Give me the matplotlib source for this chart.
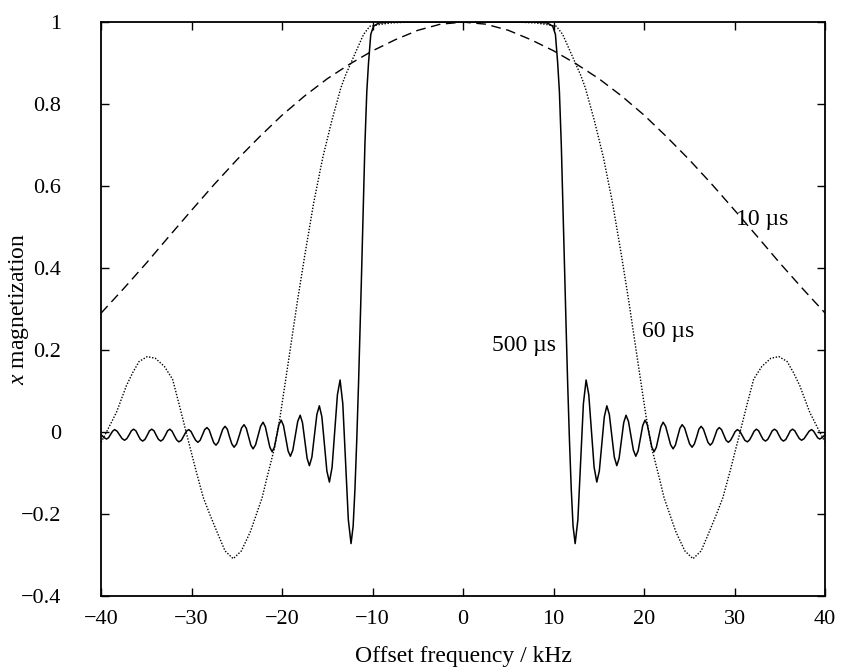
import numpy as np
import matplotlib
matplotlib.use("Agg")
import matplotlib.pyplot as plt

plt.rcParams['font.family'] = ['Liberation Serif', 'DejaVu Serif']
plt.rcParams['mathtext.fontset'] = 'custom'
plt.rcParams['mathtext.rm'] = 'Liberation Serif'
plt.rcParams['mathtext.it'] = 'Liberation Serif:italic'

# right half of each profile (kHz, x magnetization); curves are symmetric about 0
f10 = [0, 2.5, 5, 7.5, 10, 12.5, 15, 17.5, 20, 22.5, 25, 27.5, 30, 32.5, 35, 37.5, 40]
m10 = [1.0, 0.995, 0.98, 0.957, 0.93, 0.898, 0.862, 0.82, 0.773, 0.72, 0.664,
       0.604, 0.541, 0.477, 0.412, 0.35, 0.29]

f60 = [0, 6, 8, 9, 10.3, 11, 12, 13, 13.5,
       14.5, 15.5, 16.5, 17.5, 18.3,
       19.26, 20.2, 20.85, 21.7, 22.2,
       23.5, 24.5, 25.4, 26.3, 27.2,
       28.0, 28.7, 29.5, 30.6, 31.4,
       32.1, 33.0, 34.0, 34.9, 35.8,
       36.5, 37.2, 38.3, 39.4, 40]
m60 = [1.0, 1.0, 0.998, 0.995, 0.99, 0.97, 0.92, 0.87, 0.84,
       0.76, 0.67, 0.56, 0.43, 0.32,
       0.178, 0.04, -0.04, -0.114, -0.16,
       -0.243, -0.29, -0.309, -0.29, -0.243,
       -0.2, -0.16, -0.095, 0.0, 0.07,
       0.129, 0.16, 0.18, 0.184, 0.172,
       0.145, 0.113, 0.048, 0.0, -0.025]

f500 = [0, 4, 8, 9.3, 9.9, 10.2, 10.45, 10.64, 10.85, 11.05, 11.25, 11.4, 11.55, 11.75, 11.95, 12.15, 12.38,
        12.68, 12.985, 13.29, 13.59,
        13.885, 14.18, 14.475, 14.77,
        15.05, 15.325, 15.60, 15.88,
        16.155, 16.43, 16.705, 16.98,
        17.235, 17.49, 17.745, 18.0,
        18.27, 18.54, 18.81, 19.08,
        19.335, 19.59, 19.845, 20.1,
        20.35, 20.6, 20.85, 21.1,
        21.35, 21.6, 21.85, 22.1,
        22.375, 22.65, 22.925, 23.2,
        23.45, 23.7, 23.95, 24.2,
        24.475, 24.75, 25.025, 25.3,
        25.55, 25.8, 26.05, 26.3,
        26.55, 26.8, 27.05, 27.3,
        27.55, 27.8, 28.05, 28.3,
        28.55, 28.8, 29.05, 29.3,
        29.55, 29.8, 30.05, 30.3,
        30.575, 30.85, 31.125, 31.4,
        31.65, 31.9, 32.15, 32.4,
        32.65, 32.9, 33.15, 33.4,
        33.65, 33.9, 34.15, 34.4,
        34.65, 34.9, 35.15, 35.4,
        35.65, 35.9, 36.15, 36.4,
        36.65, 36.9, 37.15, 37.4,
        37.675, 37.95, 38.225, 38.5,
        38.725, 38.95, 39.175, 39.4,
        39.7, 40]
m500 = [1.0, 1.0, 1.0, 0.998, 0.99, 0.97, 0.9, 0.83, 0.7, 0.53, 0.36, 0.24, 0.12, -0.02, -0.14, -0.23, -0.272,
        -0.214, -0.073, 0.069, 0.127,
        0.091, 0.003, -0.086, -0.122,
        -0.095, -0.029, 0.037, 0.064,
        0.043, -0.009, -0.061, -0.082,
        -0.064, -0.021, 0.023, 0.041,
        0.026, -0.009, -0.044, -0.059,
        -0.046, -0.015, 0.016, 0.029,
        0.018, -0.010, -0.037, -0.048,
        -0.037, -0.012, 0.013, 0.024,
        0.014, -0.009, -0.031, -0.041,
        -0.032, -0.012, 0.009, 0.018,
        0.010, -0.010, -0.029, -0.037,
        -0.029, -0.012, 0.007, 0.014,
        0.007, -0.009, -0.025, -0.032,
        -0.026, -0.011, 0.005, 0.011,
        0.006, -0.007, -0.020, -0.025,
        -0.020, -0.010, 0.001, 0.006,
        0.002, -0.009, -0.020, -0.024,
        -0.019, -0.009, 0.002, 0.007,
        0.003, -0.008, -0.018, -0.022,
        -0.018, -0.008, 0.003, 0.007,
        0.003, -0.008, -0.018, -0.022,
        -0.018, -0.008, 0.003, 0.007,
        0.003, -0.007, -0.016, -0.020,
        -0.016, -0.007, 0.002, 0.006,
        0.002, -0.006, -0.014, -0.017,
        -0.013, -0.006]

xticks = [-40, -30, -20, -10, 0, 10, 20, 30, 40]
yticks = [-0.4, -0.2, 0, 0.2, 0.4, 0.6, 0.8, 1]
ytick_labels = ['\u22120.4', '\u22120.2', '0', '0.2', '0.4', '0.6', '0.8', '1']


def mirror(f, m):
    f = np.asarray(f, float)
    m = np.asarray(m, float)
    return np.concatenate([-f[:0:-1], f]), np.concatenate([m[:0:-1], m])


fig = plt.figure(figsize=(8.42, 6.70), dpi=100)
ax = fig.add_axes([0.12, 0.1104, 0.86, 0.8566])

x, y = mirror(f10, m10)
ax.plot(x, y, color='black', lw=1.0, ls=(0, (7, 4)))
x, y = mirror(f60, m60)
ax.plot(x, y, color='black', lw=1.0, ls=(0, (1, 1.2)))
x, y = mirror(f500, m500)
ax.plot(x, y, color='black', lw=1.1, ls='-')

ax.text(30.1, 0.518, '10 µs', fontsize=17, va='center', ha='left')
ax.text(19.8, 0.246, '60 µs', fontsize=17, va='center', ha='left')
ax.text(3.2, 0.21, '500 µs', fontsize=17, va='center', ha='left')

ax.set_xlim(-40, 40)
ax.set_ylim(-0.4, 1)
ax.set_xticks(xticks)
ax.set_yticks(yticks)
ax.set_yticklabels(ytick_labels)
ax.tick_params(direction='in', length=6, width=1, top=True, right=True,
               labelsize=16)
ax.tick_params(axis='x', pad=10)
ax.tick_params(axis='y', pad=29)
for s in ax.spines.values():
    s.set_linewidth(1.3)

ax.set_xlabel('Offset frequency / kHz', fontsize=17, labelpad=12)
ax.set_ylabel('$x$ magnetization', fontsize=17)
ax.yaxis.set_label_coords(-0.097, 0.5)

fig.savefig('out.png', dpi=100)
